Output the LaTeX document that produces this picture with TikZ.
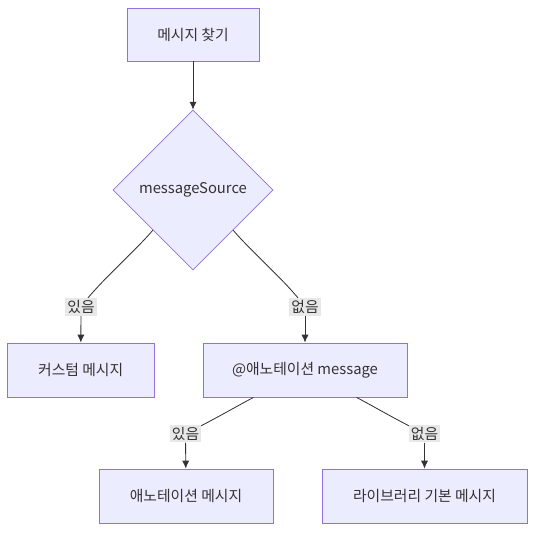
\documentclass[tikz,border=0pt]{standalone}
\usepackage{fontspec}
\setmainfont{Noto Sans CJK KR}
\usepackage{xcolor}
\usepackage{tikz}
\usetikzlibrary{shapes.geometric,arrows.meta}
\definecolor{boxfill}{RGB}{236,236,255}
\definecolor{boxline}{RGB}{147,112,219}
\definecolor{linkgray}{RGB}{51,51,51}
\definecolor{labelgray}{RGB}{232,232,232}
\tikzset{>={Latex[width=1.8mm,length=2mm]}}
\tikzset{
  msgbox/.style={shape=rectangle,draw=boxline,fill=boxfill,line width=0.6pt,minimum height=0.54in,align=center,text=linkgray},
  choice/.style={shape=diamond,draw=boxline,fill=boxfill,line width=0.5pt,minimum width=1.6in,minimum height=1.6in,inner sep=0pt,aspect=1,text=linkgray},
  edgetext/.style={shape=rectangle,fill=labelgray,inner sep=1.5pt,text=linkgray},
  link/.style={draw=linkgray,line width=0.6pt}
}

\begin{document}
\begin{tikzpicture}[font=\fontsize{10.7pt}{12pt}\selectfont]

\useasboundingbox (0in,0in) rectangle (5.43in,-5.38in);

\path (1.93in,-0.345in) node (find) [msgbox,minimum width=1.32in,minimum height=0.53in]{메시지 찾기};

\path (1.93in,-1.90in) node (source) [choice]{messageSource};

\path (0.807in,-3.70in) node (custom) [msgbox,minimum width=1.47in]{커스텀 메시지};

\path (3.05in,-3.70in) node (annot) [msgbox,minimum width=2.04in]{@애노테이션 message};

\path (1.86in,-4.96in) node (annotmsg) [msgbox,minimum width=1.74in]{애노테이션 메시지};

\path (4.245in,-4.96in) node (libmsg) [msgbox,minimum width=2.05in]{라이브러리 기본 메시지};

% edges
\draw [link,->] (find) -- (source);

\draw [link] (source.-135) to[out=-130,in=55,looseness=0.7] (0.81in,-3.07in);
\draw [link] (source.-45) to[out=-50,in=125,looseness=0.7] (3.05in,-3.07in);
\draw [link] (annot.-152) to[out=-152,in=25,looseness=0.8] (1.855in,-4.335in);
\draw [link] (annot.-28) to[out=-28,in=155,looseness=0.8] (4.245in,-4.335in);

\path (0.81in,-3.07in) node (yes1) [edgetext]{있음};
\path (3.05in,-3.07in) node (no1) [edgetext]{없음};
\path (1.855in,-4.335in) node (yes2) [edgetext]{있음};
\path (4.245in,-4.335in) node (no2) [edgetext]{없음};

\draw [link,->] (yes1) -- (custom);
\draw [link,->] (no1) -- (annot);
\draw [link,->] (yes2) -- (annotmsg);
\draw [link,->] (no2) -- (libmsg);

\end{tikzpicture}
\end{document}
